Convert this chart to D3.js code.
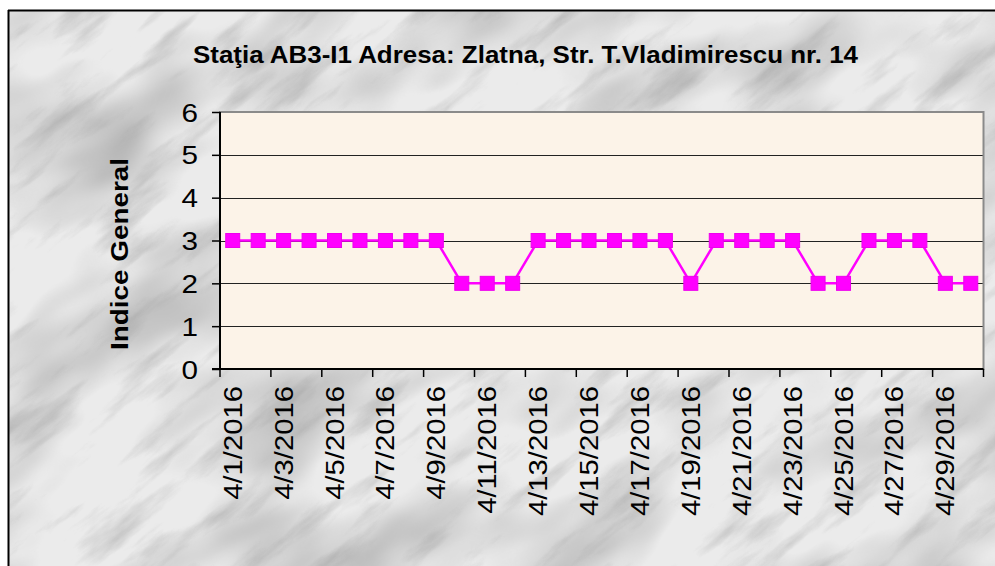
<!DOCTYPE html>
<html><head><meta charset="utf-8">
<script src="https://cdn.jsdelivr.net/npm/d3@7"></script>
<style>body{margin:0;background:#fff;}svg{display:block;}</style>
</head><body>
<script>
const title = "Staţia AB3-I1 Adresa: Zlatna, Str. T.Vladimirescu nr. 14";
const yTitle = "Indice General";
const dates = ["4/1/2016","4/2/2016","4/3/2016","4/4/2016","4/5/2016","4/6/2016","4/7/2016","4/8/2016","4/9/2016","4/10/2016",
"4/11/2016","4/12/2016","4/13/2016","4/14/2016","4/15/2016","4/16/2016","4/17/2016","4/18/2016","4/19/2016","4/20/2016",
"4/21/2016","4/22/2016","4/23/2016","4/24/2016","4/25/2016","4/26/2016","4/27/2016","4/28/2016","4/29/2016","4/30/2016"];
const values = [3,3,3,3,3,3,3,3,3,2, 2,2,3,3,3,3,3,3,2,3, 3,3,3,2,2,3,3,3,2,2];
const yTicks = [0,1,2,3,4,5,6];

const W = 995, H = 566;
const FONT = "Liberation Sans, Arial, sans-serif";
const svg = d3.select("body").append("svg").attr("width", W).attr("height", H);
const defs = svg.append("defs");
function noiseFilter(id, freq, oct, seed, mat, color){
  const f = defs.append("filter").attr("id",id).attr("x",0).attr("y",0).attr("width","100%").attr("height","100%");
  f.append("feTurbulence").attr("type","fractalNoise").attr("baseFrequency",freq).attr("numOctaves",oct).attr("seed",seed).attr("result","n");
  f.append("feColorMatrix").attr("in","n").attr("type","matrix").attr("values",mat).attr("result","a");
  f.append("feFlood").attr("flood-color",color).attr("result","c");
  f.append("feComposite").attr("in","c").attr("in2","a").attr("operator","in");
}
noiseFilter("blotch","0.006 0.012",3,11,"0 0 0 0 0  0 0 0 0 0  0 0 0 0 0  -1.3 0 0 0 0.75","#9a9a9a");
noiseFilter("veins","0.01 0.045",5,4,"0 0 0 0 0  0 0 0 0 0  0 0 0 0 0  -1.5 -0.3 0 0 0.85","#909090");

const bg = svg.append("g");
bg.append("rect").attr("x",8).attr("y",10).attr("width",W-8).attr("height",H-10).attr("fill","#ebebeb");
bg.append("g").attr("transform","translate(500,290) rotate(-30) translate(-700,-700)")
  .append("rect").attr("width",1400).attr("height",1400).attr("filter","url(#blotch)");
bg.append("g").attr("transform","translate(500,290) rotate(-38) translate(-700,-700)")
  .append("rect").attr("width",1400).attr("height",1400).attr("filter","url(#veins)").attr("opacity",0.7);
svg.append("rect").attr("x",0).attr("y",0).attr("width",W).attr("height",10).attr("fill","#fff");
svg.append("rect").attr("x",0).attr("y",0).attr("width",8).attr("height",H).attr("fill","#fff");
svg.append("line").attr("x1",8).attr("x2",W).attr("y1",10.5).attr("y2",10.5).attr("stroke","#000").attr("stroke-width",2);
svg.append("line").attr("x1",8.5).attr("x2",8.5).attr("y1",10).attr("y2",H).attr("stroke","#000").attr("stroke-width",2);

const L = 220, R = 983.5, T = 112, B = 369;
const x = d3.scaleBand().domain(dates).range([L, R]).padding(0);
const y = d3.scaleLinear().domain([0, 6]).range([B, T]);

svg.append("rect").attr("x",L).attr("y",T).attr("width",R-L).attr("height",B-T).attr("fill","#fcf3e8");
svg.append("g").selectAll("line").data(yTicks.filter(d=>d>0 && d<6)).join("line")
  .attr("x1",L).attr("x2",R).attr("y1",d=>Math.round(y(d))+0.5).attr("y2",d=>Math.round(y(d))+0.5)
  .attr("stroke","#222").attr("stroke-width",1.2);
svg.append("rect").attr("x",L).attr("y",T).attr("width",R-L).attr("height",B-T)
  .attr("fill","none").attr("stroke","#8a8a8a").attr("stroke-width",2);

// y axis
const ya = svg.append("g").attr("transform",`translate(${L},0)`)
  .call(d3.axisLeft(y).tickValues(yTicks).tickSize(8).tickPadding(14).tickFormat(d3.format("d")));
ya.select(".domain").attr("stroke","#000").attr("stroke-width",2).attr("d",`M0,${T}V${B}`);
ya.selectAll(".tick line").attr("stroke","#000").attr("stroke-width",1.5);
ya.selectAll(".tick text").attr("font-family",FONT).attr("font-size",25).attr("fill","#000").attr("dy","0.36em")
  .attr("textLength",16.5).attr("lengthAdjust","spacingAndGlyphs");

// x axis
const bw = x.bandwidth();
const xa = svg.append("g").attr("transform",`translate(0,${B})`);
xa.append("line").attr("x1",L-8).attr("x2",R).attr("y1",0).attr("y2",0).attr("stroke","#000").attr("stroke-width",2);
const bounds = d3.range(0, dates.length+1, 2).map(i => L + i*bw);
xa.selectAll(".xt").data(bounds).join("line").attr("class","xt")
  .attr("x1",d=>d).attr("x2",d=>d).attr("y1",0).attr("y2",8).attr("stroke","#000").attr("stroke-width",1.5);
xa.selectAll(".xl").data(dates.filter((d,i)=>i%2===0)).join("text").attr("class","xl")
  .attr("transform",d=>`translate(${x(d)+bw/2+9},17) rotate(-90) scale(1.17,1)`)
  .attr("text-anchor","end").attr("font-family",FONT).attr("font-size",25).attr("fill","#000")
  .text(d=>d);

// line + markers
const line = d3.line().x((d,i)=>x(dates[i])+bw/2).y(d=>y(d));
svg.append("path").datum(values).attr("d",line).attr("fill","none").attr("stroke","#ff00ff").attr("stroke-width",2.5);
const ms = 14;
svg.append("g").selectAll("rect").data(values).join("rect")
  .attr("x",(d,i)=>x(dates[i])+bw/2-ms/2).attr("y",d=>y(d)-ms/2).attr("width",ms).attr("height",ms)
  .attr("fill","#ff00ff").attr("stroke","#ee00ee").attr("stroke-width",1);

// titles
svg.append("text").attr("x",193).attr("y",63)
  .attr("font-family",FONT).attr("font-weight","bold").attr("font-size",23)
  .attr("textLength",665).attr("lengthAdjust","spacingAndGlyphs")
  .attr("fill","#000").text(title);
svg.append("text").attr("transform",`translate(128,350) rotate(-90)`)
  .attr("font-family",FONT).attr("font-weight","bold").attr("font-size",23)
  .attr("textLength",192).attr("lengthAdjust","spacingAndGlyphs")
  .attr("fill","#000").text(yTitle);
</script>
</body></html>
